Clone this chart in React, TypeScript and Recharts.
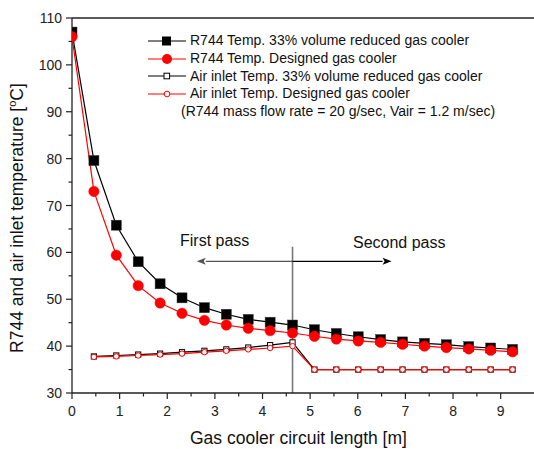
import React from 'react';
import { LineChart, Line, XAxis, YAxis, ReferenceLine } from 'recharts';

const lengths = [0, 0.46, 0.93, 1.39, 1.85, 2.31, 2.78, 3.24, 3.7, 4.16, 4.63, 5.09, 5.55, 6.01, 6.48, 6.94, 7.4, 7.86, 8.33, 8.79, 9.25];
const r744Reduced = [107, 79.6, 65.8, 58.0, 53.3, 50.3, 48.2, 46.8, 45.7, 45.1, 44.5, 43.5, 42.7, 42.0, 41.4, 40.9, 40.6, 40.3, 39.9, 39.6, 39.3];
const r744Designed = [106, 73.0, 59.4, 52.9, 49.2, 47.0, 45.5, 44.5, 43.8, 43.3, 42.8, 42.1, 41.5, 41.1, 40.8, 40.4, 40.0, 39.7, 39.4, 39.1, 38.8];
const airReduced = [null, 37.8, 38.0, 38.2, 38.4, 38.7, 39.0, 39.3, 39.7, 40.2, 40.8, 35, 35, 35, 35, 35, 35, 35, 35, 35, 35];
const airDesigned = [null, 37.7, 37.8, 38.0, 38.2, 38.4, 38.7, 39.0, 39.3, 39.6, 40.0, 35, 35, 35, 35, 35, 35, 35, 35, 35, 35];

const xTicks = [0, 0.5, 1, 1.5, 2, 2.5, 3, 3.5, 4, 4.5, 5, 5.5, 6, 6.5, 7, 7.5, 8, 8.5, 9];
const yTicks = [30, 35, 40, 45, 50, 55, 60, 65, 70, 75, 80, 85, 90, 95, 100, 105, 110];

const passBoundary = 4.63;
const arrowLevel = 58.1;
const arrowLeftEnd = 2.62;
const arrowRightEnd = 6.71;
const boundaryTop = 61.2;

const legendLabels = [
  'R744 Temp. 33% volume reduced gas cooler',
  'R744 Temp. Designed gas cooler',
  'Air inlet Temp. 33% volume reduced gas cooler',
  'Air inlet Temp. Designed gas cooler',
];
const legendNote = '(R744 mass flow rate = 20 g/sec, Vair = 1.2 m/sec)';

const toSeries = (vals: (number | null)[]) =>
  lengths.map((x, i) => ({ x, y: vals[i] })).filter((d) => d.y !== null);

const FONT = '"Liberation Sans", Arial, Helvetica, sans-serif';
const AXIS = '#222';

const FilledSquare = (props: any) => {
  const { cx, cy, index } = props;
  if (cx == null || cy == null) return <g key={index} />;
  return <rect key={index} x={cx - 5} y={cy - 5} width={10} height={10} fill="#000" stroke="#333" strokeWidth={0.5} />;
};
const FilledCircle = (props: any) => {
  const { cx, cy, index } = props;
  if (cx == null || cy == null) return <g key={index} />;
  return <circle key={index} cx={cx} cy={cy} r={5.2} fill="#ff0000" stroke="#ff0000" strokeWidth={0.5} />;
};
const OpenSquare = (props: any) => {
  const { cx, cy, index } = props;
  if (cx == null || cy == null) return <g key={index} />;
  return <rect key={index} x={cx - 2.6} y={cy - 2.6} width={5.2} height={5.2} fill="#fff" stroke="#000" strokeWidth={1} />;
};
const OpenCircle = (props: any) => {
  const { cx, cy, index } = props;
  if (cx == null || cy == null) return <g key={index} />;
  return <circle key={index} cx={cx} cy={cy} r={2.7} fill="#fff" stroke="#ff0000" strokeWidth={1} />;
};

const XTick = (props: any) => {
  const { x, y, payload } = props;
  const v = payload.value;
  const major = Math.abs(v - Math.round(v)) < 1e-6;
  return (
    <g>
      <line x1={x} x2={x} y1={y} y2={y + (major ? 6 : 3.5)} stroke={AXIS} strokeWidth={1.2} />
      {major && (
        <text x={x} y={y + 23} textAnchor="middle" fontSize={14} fontFamily={FONT} fill="#222">
          {v}
        </text>
      )}
    </g>
  );
};

const YTick = (props: any) => {
  const { x, y, payload } = props;
  const v = payload.value;
  const major = v % 10 === 0;
  return (
    <g>
      <line x1={x} x2={x - (major ? 6 : 3.5)} y1={y} y2={y} stroke={AXIS} strokeWidth={1.2} />
      {major && (
        <text x={x - 10} y={y + 5} textAnchor="end" fontSize={14} fontFamily={FONT} fill="#222">
          {v}
        </text>
      )}
    </g>
  );
};

const ArrowShape = (color: string) => (props: any) => {
  const { x1, y1, x2, y2 } = props;
  if ([x1, y1, x2, y2].some((v) => v == null)) return <g />;
  const dir = Math.sign(x2 - x1) || 1;
  const tipX = x2;
  const baseX = x2 - dir * 9;
  return (
    <g>
      <line x1={x1} y1={y1} x2={baseX} y2={y2} stroke={color} strokeWidth={1.3} />
      <polygon points={`${tipX},${y2} ${baseX},${y2 - 3.5} ${baseX + dir * 2},${y2} ${baseX},${y2 + 3.5}`} fill={color} />
    </g>
  );
};

const LegendIcon = ({ kind }: { kind: number }) => {
  const color = kind % 2 === 0 ? '#000' : '#ff0000';
  return (
    <svg width={38} height={14} style={{ display: 'block' }}>
      <line x1={0} x2={38} y1={7} y2={7} stroke={color} strokeWidth={1.2} />
      {kind === 0 && <rect x={14} y={2.5} width={9} height={9} fill="#000" />}
      {kind === 1 && <circle cx={19} cy={7} r={5} fill="#ff0000" />}
      {kind === 2 && <rect x={16} y={4.2} width={5.6} height={5.6} fill="#fff" stroke="#000" strokeWidth={1} />}
      {kind === 3 && <circle cx={19} cy={7} r={2.8} fill="#fff" stroke="#ff0000" strokeWidth={1} />}
    </svg>
  );
};

export default function App() {
  return (
    <div style={{ position: 'absolute', left: 0, top: 0, width: 534, height: 449, background: '#fff', fontFamily: FONT }}>
      <LineChart width={534} height={449} margin={{ top: 18, right: 0, bottom: 0, left: 0 }}>
        <XAxis
          type="number"
          dataKey="x"
          domain={[0, 9.7]}
          ticks={xTicks}
          interval={0}
          tick={XTick}
          tickLine={false}
          tickSize={0}
          tickMargin={0}
          height={56}
          axisLine={{ stroke: AXIS, strokeWidth: 1.3 }}
          allowDataOverflow
        />
        <YAxis
          type="number"
          domain={[30, 110]}
          ticks={yTicks}
          interval={0}
          tick={YTick}
          tickLine={false}
          tickSize={0}
          tickMargin={0}
          width={72}
          axisLine={{ stroke: AXIS, strokeWidth: 1.3 }}
          allowDataOverflow
        />
        <ReferenceLine y={110} stroke={AXIS} strokeWidth={1.3} />
        <ReferenceLine
          segment={[{ x: passBoundary, y: 30 }, { x: passBoundary, y: boundaryTop }]}
          stroke="#777"
          strokeWidth={1.6}
        />
        <ReferenceLine
          segment={[{ x: passBoundary, y: arrowLevel }, { x: arrowLeftEnd, y: arrowLevel }]}
          shape={ArrowShape('#555')}
        />
        <ReferenceLine
          segment={[{ x: passBoundary, y: arrowLevel }, { x: arrowRightEnd, y: arrowLevel }]}
          shape={ArrowShape('#000')}
        />
        <Line data={toSeries(r744Reduced)} dataKey="y" stroke="#000" strokeWidth={1.2} dot={FilledSquare} isAnimationActive={false} />
        <Line data={toSeries(r744Designed)} dataKey="y" stroke="#ff0000" strokeWidth={1.2} dot={FilledCircle} isAnimationActive={false} />
        <Line data={toSeries(airReduced)} dataKey="y" stroke="#000" strokeWidth={1.2} dot={OpenSquare} isAnimationActive={false} />
        <Line data={toSeries(airDesigned)} dataKey="y" stroke="#ff0000" strokeWidth={1.2} dot={OpenCircle} isAnimationActive={false} />
      </LineChart>

      {/* legend */}
      <div style={{ position: 'absolute', left: 148, top: 32, pointerEvents: 'none' }}>
        {legendLabels.map((label, i) => (
          <div key={label} style={{ display: 'flex', alignItems: 'center', height: 17.7 }}>
            <LegendIcon kind={i} />
            <span style={{ marginLeft: 4, fontSize: 14, color: '#111', whiteSpace: 'nowrap', lineHeight: '17px' }}>{label}</span>
          </div>
        ))}
        <div style={{ marginLeft: 33, fontSize: 14, color: '#111', whiteSpace: 'nowrap', lineHeight: '17px' }}>{legendNote}</div>
      </div>

      {/* pass labels */}
      <div style={{ position: 'absolute', left: 180, top: 232, fontSize: 16, color: '#111', whiteSpace: 'nowrap' }}>First pass</div>
      <div style={{ position: 'absolute', left: 353, top: 234, fontSize: 16, color: '#111', whiteSpace: 'nowrap' }}>Second pass</div>

      {/* axis titles */}
      <div style={{ position: 'absolute', left: 190, top: 428, fontSize: 17.5, color: '#111', whiteSpace: 'nowrap' }}>
        Gas cooler circuit length [m]
      </div>
      <svg style={{ position: 'absolute', left: 0, top: 0, pointerEvents: 'none' }} width={40} height={449}>
        <text
          transform="translate(23,218) rotate(-90)"
          textAnchor="middle"
          fontSize={17.5}
          fontFamily={FONT}
          fill="#111"
        >
          R744 and air inlet temperature [<tspan dy={-7} fontSize={11}>o</tspan><tspan dy={7}>C]</tspan>
        </text>
      </svg>
    </div>
  );
}
